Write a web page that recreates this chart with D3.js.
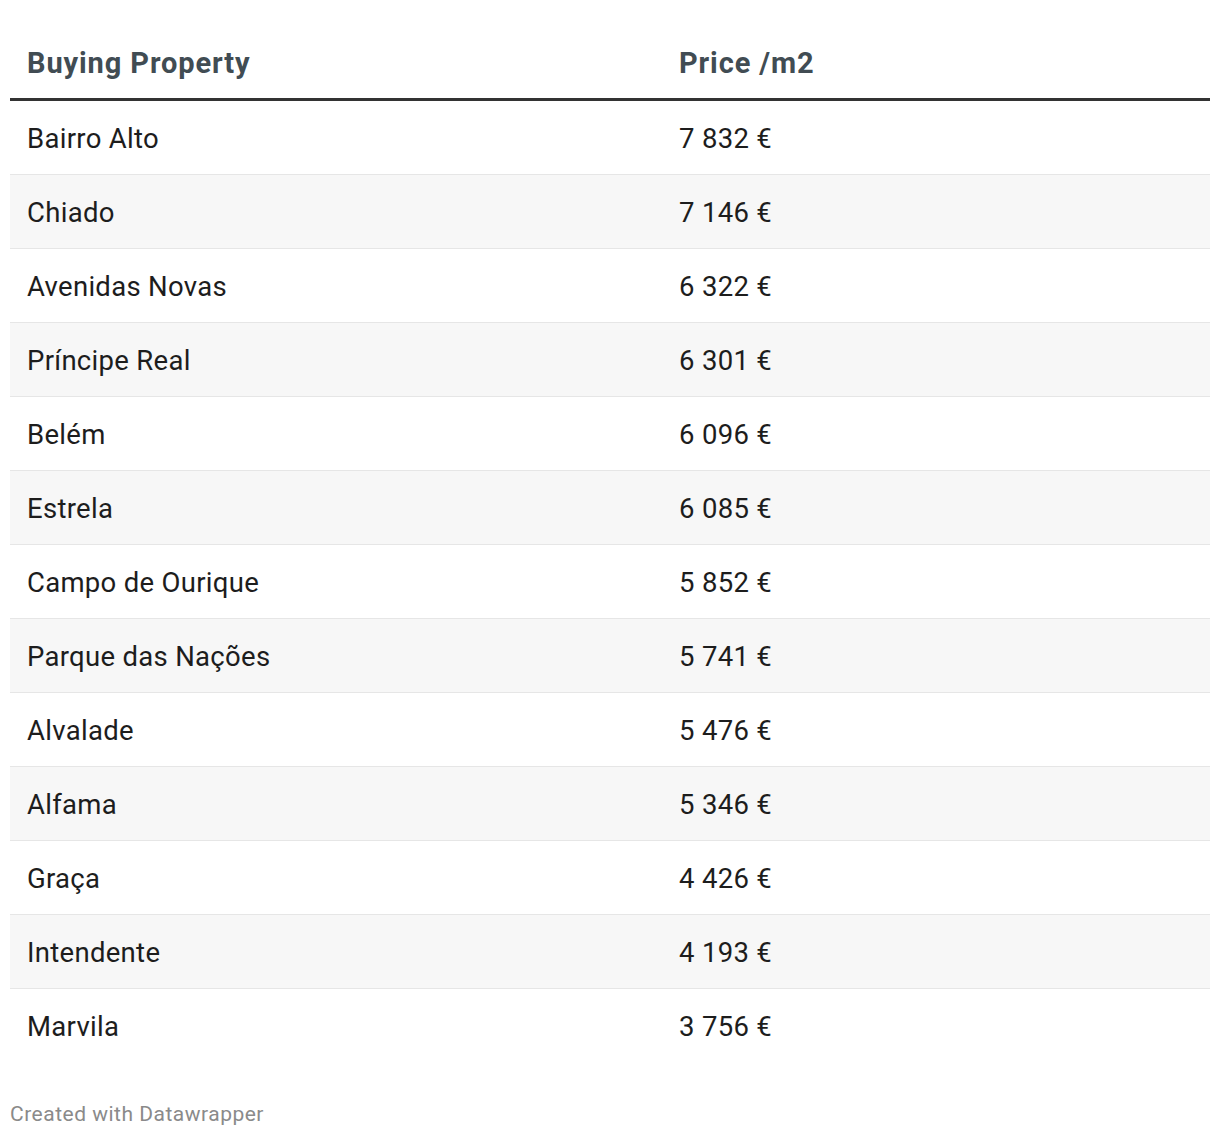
<!DOCTYPE html>
<html><head><meta charset="utf-8">
<script src="https://cdn.jsdelivr.net/npm/d3@7"></script>
<style>
html,body{margin:0;padding:0;background:#fff;}
text{font-family:Roboto,"Noto Sans",sans-serif;}
</style></head>
<body>
<svg id="chart" width="1220" height="1138"></svg>
<script>
const headers = ["Buying Property", "Price /m2"];
const neighbourhoods = ["Bairro Alto","Chiado","Avenidas Novas","Príncipe Real","Belém","Estrela","Campo de Ourique","Parque das Nações","Alvalade","Alfama","Graça","Intendente","Marvila"];
const prices = [7832,7146,6322,6301,6096,6085,5852,5741,5476,5346,4426,4193,3756];
const footer = "Created with Datawrapper";

const rows = neighbourhoods.map((n,i)=>({name:n, price:prices[i]}));
const fmt = v => d3.format(",")(v).replace(/,/g, " ") + " €";

const svg = d3.select("#chart");
const left = 10, right = 1210, col1 = 27, col2 = 679;
const y = d3.scaleBand().domain(d3.range(rows.length)).range([101, 101 + 74*rows.length]).paddingInner(0);

// header
svg.selectAll("text.h").data(headers).join("text").attr("class","h")
  .attr("x",(d,i)=>i===0?col1:col2).attr("y",73)
  .attr("font-size",29).attr("font-weight",700).attr("letter-spacing",0.9).attr("fill","#414c53").text(d=>d);

// row backgrounds
svg.selectAll("rect.bg").data(rows).join("rect").attr("class","bg")
  .attr("x",left).attr("width",right-left).attr("y",(d,i)=>y(i)).attr("height",y.bandwidth())
  .attr("fill",(d,i)=>i%2===1?"#f7f7f7":"#ffffff");

// separators
svg.selectAll("line.sep").data(rows.slice(0,-1)).join("line").attr("class","sep")
  .attr("x1",left).attr("x2",right)
  .attr("y1",(d,i)=>y(i)+y.bandwidth()-0.5).attr("y2",(d,i)=>y(i)+y.bandwidth()-0.5)
  .attr("stroke","#e6e6e6").attr("stroke-width",1);

// header rule
svg.append("line").attr("x1",left).attr("x2",right).attr("y1",99.5).attr("y2",99.5)
  .attr("stroke","#333333").attr("stroke-width",3);

// cells
const g = svg.selectAll("g.row").data(rows).join("g").attr("class","row")
  .attr("transform",(d,i)=>`translate(0,${y(i)+y.bandwidth()/2})`);
g.append("text").attr("x",col1).attr("dy","0.355em").attr("font-size",27.5).attr("letter-spacing",0.3).attr("fill","#1d1d1d").text(d=>d.name);
g.append("text").attr("x",col2).attr("dy","0.355em").attr("font-size",27.5).attr("letter-spacing",0.3).attr("fill","#1d1d1d").text(d=>fmt(d.price));

svg.append("text").attr("x",10).attr("y",1121).attr("font-size",21).attr("letter-spacing",0.5).attr("fill","#8a8a8a").text(footer);
</script>
</body></html>
